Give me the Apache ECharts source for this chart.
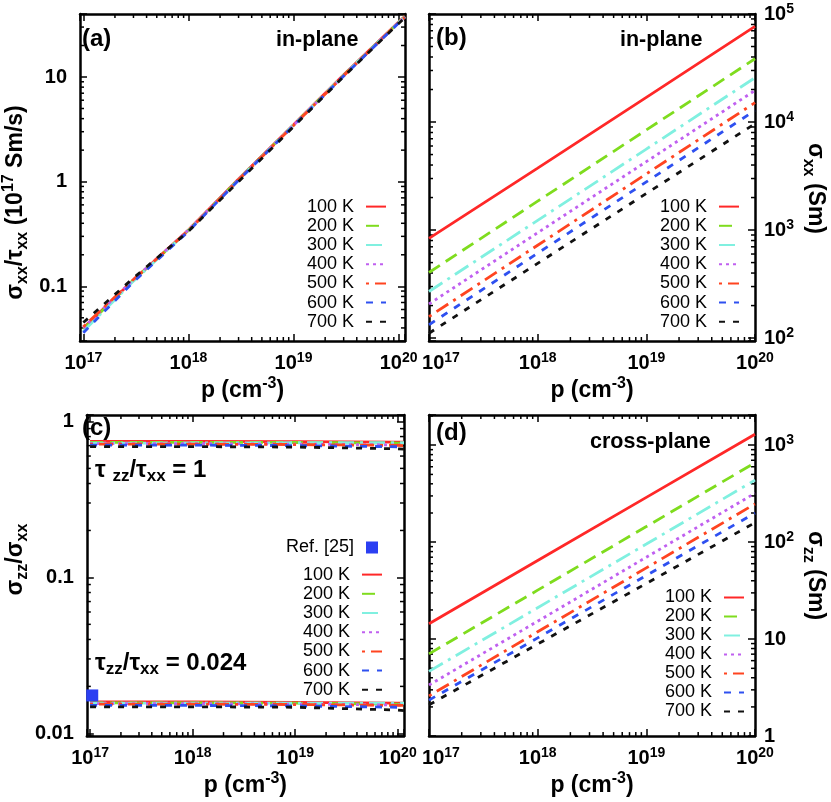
<!DOCTYPE html>
<html>
<head>
<meta charset="utf-8">
<script src="https://cdn.jsdelivr.net/npm/echarts@6/dist/echarts.min.js"></script>
<style>html,body{margin:0;padding:0;background:#fff}#main{width:831px;height:802px}</style>
</head>
<body>
<div id="main"></div>
<script>
// hole concentration p (cm^-3)
var pA = [1e17, 3e17, 1e18, 3e18, 1e19, 3e19, 1e20, 1.15e20];
var pB = [1e17, 1e18, 1e19, 1e20];
var pC = [1e17, 1e18, 1e19, 1e20, 1.15e20];
var names = ['100 K', '200 K', '300 K', '400 K', '500 K', '600 K', '700 K'];

// (a) sigma_xx / tau_xx  (10^17 Sm/s)
var a100 = [0.040, 0.115, 0.345, 1.06, 3.50, 10.5, 33.5, 38.0];
var a200 = [0.039, 0.114, 0.342, 1.05, 3.48, 10.4, 33.3, 37.8];
var a300 = [0.037, 0.112, 0.340, 1.05, 3.47, 10.4, 33.2, 37.7];
var a400 = [0.040, 0.116, 0.345, 1.05, 3.46, 10.3, 33.0, 37.5];
var a500 = [0.041, 0.116, 0.340, 1.04, 3.44, 10.3, 33.0, 37.4];
var a600 = [0.036, 0.110, 0.335, 1.03, 3.42, 10.2, 32.8, 37.2];
var a700 = [0.045, 0.120, 0.335, 1.00, 3.35, 10.1, 32.5, 37.0];

// (b) sigma_xx (Sm), in-plane
var b100 = [838, 3740, 16900, 76700];
var b200 = [405, 1850, 8450, 38500];
var b300 = [270, 1230, 5620, 25700];
var b400 = [207, 944, 4300, 19600];
var b500 = [158, 724, 3310, 15100];
var b600 = [133, 610, 2790, 12800];
var b700 = [111, 492, 2180, 9660];

// (c) sigma_zz / sigma_xx, tau_zz/tau_xx = 1 (upper) and 0.024 (lower)
var cUp100 = [0.745, 0.745, 0.743, 0.738, 0.736];
var cUp200 = [0.735, 0.735, 0.733, 0.727, 0.725];
var cUp300 = [0.725, 0.728, 0.730, 0.730, 0.730];
var cUp400 = [0.720, 0.720, 0.716, 0.707, 0.705];
var cUp500 = [0.715, 0.715, 0.711, 0.702, 0.700];
var cUp600 = [0.705, 0.705, 0.700, 0.688, 0.685];
var cUp700 = [0.690, 0.690, 0.685, 0.668, 0.664];
var cLo100 = [0.0159, 0.0159, 0.0158, 0.0156, 0.0156];
var cLo200 = [0.0157, 0.0157, 0.0156, 0.0154, 0.0154];
var cLo300 = [0.0156, 0.0156, 0.0156, 0.0156, 0.0156];
var cLo400 = [0.0155, 0.0155, 0.0154, 0.0152, 0.0152];
var cLo500 = [0.0154, 0.0154, 0.0153, 0.0151, 0.0151];
var cLo600 = [0.0151, 0.0151, 0.0150, 0.0147, 0.0146];
var cLo700 = [0.0148, 0.0148, 0.0147, 0.0141, 0.0140];
var refP = [1.05e17];
var refV = [0.0175];

// (d) sigma_zz (Sm), cross-plane
var d100 = [14.4, 64.7, 290, 1300];
var d200 = [7.05, 32.0, 145, 660];
var d300 = [4.65, 21.1, 95.6, 437];
var d400 = [3.36, 15.3, 70.0, 320];
var d500 = [2.60, 11.9, 54.3, 248];
var d600 = [2.35, 10.3, 45.4, 200];
var d700 = [2.10, 8.9, 37.5, 159];

var FONT = 'Liberation Sans, Arial, Helvetica, sans-serif';
var colors = ['#ff2828', '#7fdc1e', '#80f0e0', '#c060f0', '#ff4420', '#2e50f0', '#111111'];
var dashes = ['solid', [13, 7], [16, 6, 3, 6], [3, 4], [3, 6, 14, 6], [7, 8], [6, 8]];

var myChart = echarts.init(document.getElementById('main'));

var grids = [
    {left: 78, top: 14, width: 327, height: 327},
    {left: 429, top: 14, width: 327, height: 327},
    {left: 78, top: 415, width: 326, height: 326},
    {left: 429, top: 415, width: 327, height: 327}
];
var xRange = [[0.93e17, 1.15e20], [1e17, 1e20], [0.93e17, 1.15e20], [1e17, 1e20]];
var yRange = [[0.03, 40], [94, 1e5], [0.0096, 1.1], [1, 2050]];

function logLabel(v) {
    var l = Math.log10(v), e = Math.round(l);
    if (Math.abs(l - e) > 1e-6) return '';
    if (e < 0) return v.toFixed(-e);
    if (e <= 1) return String(Math.pow(10, e));
    return '10{s|' + e + '}';
}
// right-hand panels: first x label sits a bit right of its tick, as in the figure
function shiftedLabel(v) {
    var s = logLabel(v);
    if (s && Math.abs(Math.log10(v) - 17) < 1e-6) s = '{g|}' + s;
    return s;
}

var richTxt = {
    s: {fontSize: 14, fontWeight: 'bold', fontFamily: FONT, color: '#000', verticalAlign: 'top', lineHeight: 14},
    g: {width: 24},
    sup: {fontSize: 16, fontWeight: 'bold', fontFamily: FONT, color: '#000', verticalAlign: 'top', lineHeight: 16},
    sub: {fontSize: 16, fontWeight: 'bold', fontFamily: FONT, color: '#000', verticalAlign: 'bottom', lineHeight: 16}
};
var frame = {show: true, onZero: false, lineStyle: {color: '#000', width: 2.5}};
var major = {show: true, inside: true, length: 7, lineStyle: {color: '#000', width: 1.5}};
var nameStyle = {fontSize: 23, fontWeight: 'bold', fontFamily: FONT, color: '#000', lineHeight: 30, rich: richTxt};

var xAxis = [], yAxis = [];
var yNames = ['σ{sub|xx}/τ{sub|xx} (10{sup|17} Sm/s)', 'σ{sub|xx} (Sm)', 'σ{sub|zz}/σ{sub|xx}', 'σ{sub|zz} (Sm)'];
var yPad = [[0, 50, 0, 0], [0, 0, 0, 22], [0, 0, 0, 32], [0, 0, 0, 0]];
grids.forEach(function (g, i) {
    var right = (i % 2 === 1);
    xAxis.push({
        type: 'log', gridIndex: i, min: xRange[i][0], max: xRange[i][1], position: 'bottom',
        axisLine: frame, axisTick: major, splitLine: {show: false},
        axisLabel: {formatter: right ? shiftedLabel : logLabel, fontSize: 20, fontWeight: 'bold', fontFamily: FONT,
            color: '#000', margin: 10, lineHeight: 24, rich: richTxt},
        name: 'p (cm{sup|-3})', nameLocation: 'middle', nameGap: 30, nameTextStyle: nameStyle
    });
    xAxis.push({
        type: 'log', gridIndex: i, min: xRange[i][0], max: xRange[i][1], position: 'top',
        axisLine: frame, axisTick: major, axisLabel: {show: false}, splitLine: {show: false}
    });
    yAxis.push({
        type: 'log', gridIndex: i, min: yRange[i][0], max: yRange[i][1], position: right ? 'right' : 'left',
        axisLine: frame, axisTick: major, splitLine: {show: false},
        axisLabel: {formatter: logLabel, fontSize: 20, fontWeight: 'bold', fontFamily: FONT, color: '#000',
            margin: right ? 9 : 13, lineHeight: 24, rich: richTxt},
        name: yNames[i], nameLocation: 'middle', nameRotate: right ? -90 : 90,
        nameGap: right ? 45 : 49,
        nameTextStyle: Object.assign({}, nameStyle, {padding: yPad[i]})
    });
    yAxis.push({
        type: 'log', gridIndex: i, min: yRange[i][0], max: yRange[i][1], position: right ? 'left' : 'right',
        axisLine: frame, axisTick: major, axisLabel: {show: false}, splitLine: {show: false}
    });
});

function lineSeries(i, p, vals, g) {
    return {
        name: names[i], type: 'line', xAxisIndex: g * 2, yAxisIndex: g * 2,
        data: p.map(function (x, k) { return [x, vals[k]]; }),
        symbol: 'none', showSymbol: false, animation: false,
        lineStyle: {color: colors[i], width: 2.8, type: dashes[i]},
        itemStyle: {color: colors[i]}
    };
}

// minor ticks at 2..9 of each decade, placed on all four sides of a panel
function minorVals(lo, hi) {
    var out = [];
    for (var e = Math.floor(Math.log10(lo)); e <= Math.ceil(Math.log10(hi)); e++) {
        for (var k = 2; k <= 9; k++) {
            var v = k * Math.pow(10, e);
            if (v > lo && v < hi) out.push(v);
        }
    }
    return out;
}
function minorSeries(g) {
    var xr = xRange[g], yr = yRange[g];
    var data = minorVals(xr[0], xr[1]).map(function (v) { return [v, yr[0], 0]; })
        .concat(minorVals(yr[0], yr[1]).map(function (v) { return [xr[0], v, 1]; }));
    var st = {stroke: '#000', lineWidth: 1.5};
    return {
        type: 'custom', xAxisIndex: g * 2, yAxisIndex: g * 2, silent: true, clip: false, animation: false,
        data: data,
        renderItem: function (params, api) {
            var len = 4, a, b;
            if (api.value(2) === 0) {
                a = api.coord([api.value(0), yr[0]]);
                b = api.coord([api.value(0), yr[1]]);
                return {type: 'group', children: [
                    {type: 'line', shape: {x1: a[0], y1: a[1], x2: a[0], y2: a[1] - len}, style: st},
                    {type: 'line', shape: {x1: b[0], y1: b[1], x2: b[0], y2: b[1] + len}, style: st}
                ]};
            }
            a = api.coord([xr[0], api.value(1)]);
            b = api.coord([xr[1], api.value(1)]);
            return {type: 'group', children: [
                {type: 'line', shape: {x1: a[0], y1: a[1], x2: a[0] + len, y2: a[1]}, style: st},
                {type: 'line', shape: {x1: b[0], y1: b[1], x2: b[0] - len, y2: b[1]}, style: st}
            ]};
        }
    };
}

var aVals = [a100, a200, a300, a400, a500, a600, a700];
var bVals = [b100, b200, b300, b400, b500, b600, b700];
var cUp = [cUp100, cUp200, cUp300, cUp400, cUp500, cUp600, cUp700];
var cLo = [cLo100, cLo200, cLo300, cLo400, cLo500, cLo600, cLo700];
var dVals = [d100, d200, d300, d400, d500, d600, d700];

var series = [];
for (var g = 0; g < 4; g++) series.push(minorSeries(g));
for (var i = 0; i < 7; i++) {
    series.push(lineSeries(i, pA, aVals[i], 0));
    series.push(lineSeries(i, pB, bVals[i], 1));
    series.push(lineSeries(i, pC, cUp[i], 2));
    series.push(lineSeries(i, pC, cLo[i], 2));
    series.push(lineSeries(i, pB, dVals[i], 3));
}
series.push({
    name: 'Ref. [25]', type: 'scatter', xAxisIndex: 4, yAxisIndex: 4, symbol: 'rect', symbolSize: 12,
    itemStyle: {color: '#2b3ff2', opacity: 1}, z: 20, animation: false,
    data: refP.map(function (x, k) { return [x, refV[k]]; })
});

function legendAt(right, top, data, w, h, lineH, hideSymbol) {
    return {
        data: data, orient: 'vertical', right: right, top: top, align: 'right', padding: 0,
        itemWidth: w, itemHeight: h, itemGap: 0, selectedMode: false,
        itemStyle: hideSymbol ? {opacity: 0} : {opacity: 1},
        textStyle: {fontSize: 18, color: '#000', fontFamily: FONT, lineHeight: lineH, padding: [0, 7, 0, 0]}
    };
}

function label(x, y, txt, size) {
    return {type: 'text', x: x, y: y, silent: true, style: {
        text: txt, fill: '#000', fontSize: size, fontWeight: 'bold', fontFamily: FONT, verticalAlign: 'middle',
        rich: {
            t: {fontSize: 24, fontWeight: 'bold', fontFamily: FONT, color: '#000', lineHeight: 30},
            u: {fontSize: 17, fontWeight: 'bold', fontFamily: FONT, color: '#000', verticalAlign: 'bottom', lineHeight: 16}
        }
    }};
}

var option = {
    backgroundColor: '#fff',
    animation: false,
    grid: grids,
    xAxis: xAxis,
    yAxis: yAxis,
    legend: [
        legendAt(444, 197, names, 20, 14, 19.2, true),
        legendAt(91, 197, names, 20, 14, 19.2, true),
        legendAt(448, 565, names, 20, 14, 19.2, true),
        legendAt(453, 538, ['Ref. [25]'], 12, 12, 19, false),
        legendAt(86, 588, names, 20, 14, 19, true)
    ],
    graphic: [
        label(82, 39, '(a)', 24),
        label(276, 40, 'in-plane', 21.5),
        label(436, 38, '(b)', 24),
        label(620, 40, 'in-plane', 21.5),
        label(82, 428, '(c)', 24),
        label(436, 433, '(d)', 24),
        label(590, 442, 'cross-plane', 21.5),
        label(95, 470, '{t|τ }{u|zz}{t|/τ}{u|xx}{t| = 1}', 24),
        label(95, 663, '{t|τ}{u|zz}{t|/τ}{u|xx}{t| = 0.024}', 24)
    ],
    series: series
};
myChart.setOption(option);
</script>
</body>
</html>
